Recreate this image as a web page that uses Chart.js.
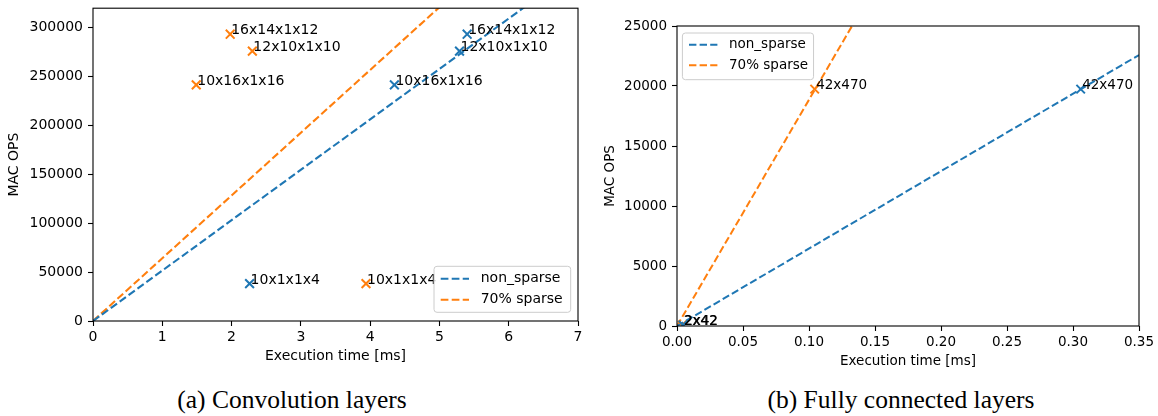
<!DOCTYPE html>
<html>
<head>
<meta charset="utf-8">
<script src="https://cdn.jsdelivr.net/npm/chart.js@4.4.1/dist/chart.umd.min.js"></script>
<style>
  html, body { margin: 0; padding: 0; background: #fff; }
  body { width: 1158px; height: 416px; position: relative; overflow: hidden; }
  canvas { position: absolute; top: 0; }
  #convChart { left: 0; }
  #fcChart { left: 590px; }
  .caption {
    position: absolute; top: 386.6px; width: 400px; text-align: center;
    font-family: "Liberation Serif", serif; font-size: 25.5px; line-height: 1;
    color: #000; white-space: nowrap;
  }
</style>
</head>
<body>
<canvas id="convChart" width="600" height="375"></canvas>
<canvas id="fcChart" width="568" height="375"></canvas>
<div class="caption" style="left:92px">(a) Convolution layers</div>
<div class="caption" style="left:701px">(b) Fully connected layers</div>
<script>
// ---- Convolution layers ----
const convLayers = ['10x1x1x4', '10x16x1x16', '12x10x1x10', '16x14x1x12'];
const convMacOps = [38300, 241500, 276100, 293400];
const convTimeDense = [2.26, 4.35, 5.29, 5.40];
const convTimeSparse = [3.94, 1.49, 2.30, 1.98];
const convFitDense = [[0, 0], [7, 361000]];
const convFitSparse = [[0, 0], [7, 449400]];
const convXTicks = [0, 1, 2, 3, 4, 5, 6, 7];
const convYTicks = [0, 50000, 100000, 150000, 200000, 250000, 300000];

// ---- Fully connected layers ----
const fcLayers = ['2x42', '42x470'];
const fcMacOps = [84, 19740];
const fcTimeDense = [0.0045, 0.3058];
const fcTimeSparse = [0.0040, 0.1043];
const fcFitDense = [[0, 0], [0.35, 22580]];
const fcFitSparse = [[0, 0], [0.35, 65990]];
const fcXTicks = [0, 0.05, 0.10, 0.15, 0.20, 0.25, 0.30, 0.35];
const fcYTicks = [0, 5000, 10000, 15000, 20000, 25000];

const seriesNames = ['non_sparse', '70% sparse'];
const BLUE = '#1f77b4';
const ORANGE = '#ff7f0e';
const FAMILY = '"DejaVu Sans"';

Chart.defaults.font.family = FAMILY;
Chart.defaults.color = '#000';

// Frame around the plot area plus a text label next to each measured layer
const frameAndLabels = {
  id: 'frameAndLabels',
  afterDatasetsDraw(chart, args, o) {
    const { ctx, chartArea: a } = chart;
    ctx.save();
    ctx.strokeStyle = '#000';
    ctx.lineWidth = 1.1;
    ctx.setLineDash([]);
    ctx.strokeRect(a.left, a.top, a.right - a.left, a.bottom - a.top);
    ctx.fillStyle = '#000';
    ctx.font = o.fontSize + 'px ' + FAMILY;
    ctx.textAlign = 'left';
    ctx.textBaseline = 'alphabetic';
    chart.data.datasets.forEach((ds, i) => {
      if (!ds.layerNames) return;
      chart.getDatasetMeta(i).data.forEach((pt, j) => {
        ctx.fillText(ds.layerNames[j], pt.x + o.dx, pt.y);
      });
    });
    ctx.restore();
  }
};

// Framed legend placed inside the plot area
const boxLegend = {
  id: 'boxLegend',
  afterDraw(chart, args, o) {
    const { ctx, chartArea: a } = chart;
    const items = chart.data.datasets.filter(d => d.inLegend);
    ctx.save();
    ctx.font = o.fontSize + 'px ' + FAMILY;
    const textW = Math.max(...items.map(d => ctx.measureText(d.label).width));
    const w = o.padL + o.sample + o.gap + textW + o.padR;
    const h = o.height;
    const x = o.anchor === 'br' ? a.right - o.insetX - w : a.left + o.insetX;
    const y = o.anchor === 'br' ? a.bottom - o.insetY - h : a.top + o.insetY;
    ctx.beginPath();
    ctx.roundRect(x, y, w, h, 3);
    ctx.fillStyle = 'rgba(255,255,255,0.8)';
    ctx.fill();
    ctx.strokeStyle = '#cccccc';
    ctx.lineWidth = 1;
    ctx.stroke();
    items.forEach((d, k) => {
      const cy = y + o.firstRow + k * o.rowGap;
      ctx.setLineDash(d.borderDash);
      ctx.strokeStyle = d.borderColor;
      ctx.lineWidth = d.borderWidth;
      ctx.beginPath();
      ctx.moveTo(x + o.padL, cy);
      ctx.lineTo(x + o.padL + o.sample, cy);
      ctx.stroke();
      ctx.setLineDash([]);
      ctx.fillStyle = '#000';
      ctx.textAlign = 'left';
      ctx.textBaseline = 'middle';
      ctx.fillText(d.label, x + o.padL + o.sample + o.gap, cy);
    });
    ctx.restore();
  }
};

const toPoints = (xs, ys) => xs.map((x, i) => ({ x: x, y: ys[i] }));
const pairPoints = pairs => pairs.map(([x, y]) => ({ x: x, y: y }));

function buildChart(canvasId, c) {
  const font = { family: FAMILY, size: c.fontSize };
  const markers = (color, times) => ({
    data: toPoints(times, c.mac),
    layerNames: c.layers,
    showLine: false,
    pointStyle: 'crossRot',
    pointRadius: c.markerRadius,
    pointBorderWidth: c.markerWidth,
    borderColor: color,
    backgroundColor: color
  });
  const fit = (label, color, pairs) => ({
    label: label,
    inLegend: true,
    data: pairPoints(pairs),
    showLine: true,
    pointRadius: 0,
    borderColor: color,
    backgroundColor: color,
    borderWidth: c.lineWidth,
    borderDash: c.dash
  });
  return new Chart(document.getElementById(canvasId), {
    type: 'scatter',
    data: {
      datasets: [
        markers(BLUE, c.timeDense),
        markers(ORANGE, c.timeSparse),
        fit(seriesNames[0], BLUE, c.fitDense),
        fit(seriesNames[1], ORANGE, c.fitSparse)
      ]
    },
    options: {
      responsive: false,
      devicePixelRatio: 1,
      animation: false,
      events: [],
      layout: { padding: c.padding },
      plugins: {
        legend: { display: false },
        tooltip: { enabled: false },
        frameAndLabels: { fontSize: c.fontSize, dx: c.labelDx },
        boxLegend: Object.assign({ fontSize: c.fontSize }, c.legend)
      },
      scales: {
        x: {
          type: 'linear', min: 0, max: c.xMax,
          afterBuildTicks: s => { s.ticks = c.xTicks.map(v => ({ value: v })); },
          afterFit: s => { s.height = c.xAxisHeight; s.paddingLeft = 0; s.paddingRight = 0; },
          grid: { display: true, drawOnChartArea: false, tickLength: 5, tickWidth: 1.1, tickColor: '#000' },
          border: { display: false },
          ticks: { padding: c.xTickPad, color: '#000', font: font, maxRotation: 0, autoSkip: false, callback: c.xFormat },
          title: { display: true, text: 'Execution time [ms]', color: '#000', font: font, padding: { top: 0, bottom: c.xTitlePad } }
        },
        y: {
          type: 'linear', min: 0, max: c.yMax,
          afterBuildTicks: s => { s.ticks = c.yTicks.map(v => ({ value: v })); },
          afterFit: s => { s.width = c.yAxisWidth; s.paddingTop = 0; s.paddingBottom = 0; },
          grid: { display: true, drawOnChartArea: false, tickLength: 5, tickWidth: 1.1, tickColor: '#000' },
          border: { display: false },
          ticks: { padding: 5, color: '#000', font: font, autoSkip: false, callback: v => String(v) },
          title: { display: true, text: 'MAC OPS', color: '#000', font: font, padding: { top: c.yTitlePad, bottom: 0 } }
        }
      }
    },
    plugins: [frameAndLabels, boxLegend]
  });
}

buildChart('convChart', {
  layers: convLayers, mac: convMacOps,
  timeDense: convTimeDense, timeSparse: convTimeSparse,
  fitDense: convFitDense, fitSparse: convFitSparse,
  xMax: 7, yMax: 320000, xTicks: convXTicks, yTicks: convYTicks,
  xFormat: v => String(v),
  fontSize: 14, markerRadius: 6.2, markerWidth: 2, lineWidth: 2.1, dash: [7.7, 3.3],
  labelDx: 1,
  padding: { top: 6, right: 22, bottom: 0, left: 0 },
  xAxisHeight: 54, yAxisWidth: 93, xTickPad: 3, xTitlePad: 10.6, yTitlePad: 5.8,
  legend: { anchor: 'br', insetX: 7.3, insetY: 8.7, height: 46, padL: 6.7, sample: 28.3, gap: 11.7, padR: 8, firstRow: 12.4, rowGap: 21 }
});

buildChart('fcChart', {
  layers: fcLayers, mac: fcMacOps,
  timeDense: fcTimeDense, timeSparse: fcTimeSparse,
  fitDense: fcFitDense, fitSparse: fcFitSparse,
  xMax: 0.35, yMax: 25000, xTicks: fcXTicks, yTicks: fcYTicks,
  xFormat: v => v.toFixed(2),
  fontSize: 13.5, markerRadius: 6, markerWidth: 2, lineWidth: 2, dash: [7.4, 3.2],
  labelDx: 1.5,
  padding: { top: 26, right: 19, bottom: 0, left: 0 },
  xAxisHeight: 49, yAxisWidth: 87, xTickPad: 3.5, xTitlePad: 5.9, yTitlePad: 11.9,
  legend: { anchor: 'tl', insetX: 5.4, insetY: 7, height: 46.7, padL: 6.6, sample: 28.4, gap: 11.6, padR: 5.5, firstRow: 11.7, rowGap: 20.6 }
});
</script>
</body>
</html>
